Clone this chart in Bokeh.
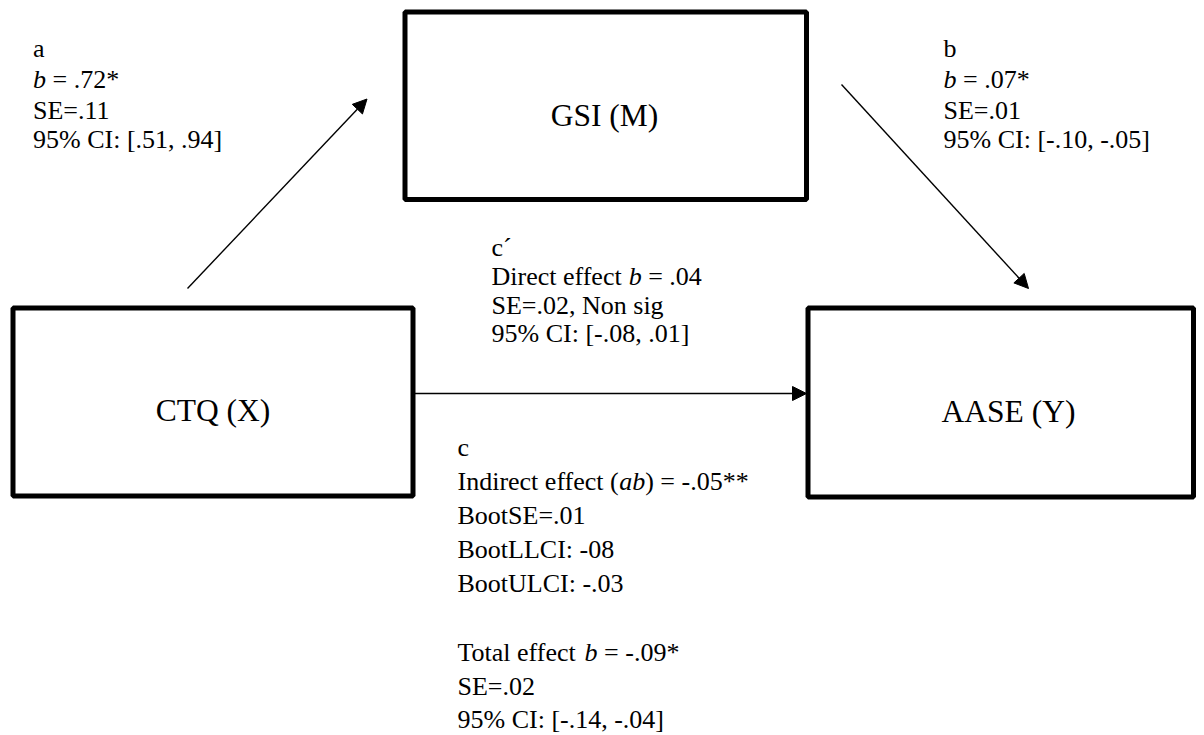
from bokeh.plotting import figure
from bokeh.models import Range1d, Arrow, NormalHead, ColumnDataSource
from bokeh.core.properties import value
from bokeh.embed import file_html
from bokeh.resources import INLINE

NB = "\u00a0"

# ---------------- data ----------------
box_names = ["GSI (M)", "CTQ (X)", "AASE (Y)"]

# each line is a list of (text, italic) segments
path_a_lines = [[("a", False)],
                [("b", True), (NB + "= .72*", False)],
                [("SE=.11", False)],
                [("95% CI: [.51, .94]", False)]]
path_b_lines = [[("b", False)],
                [("b", True), (NB + "= .07*", False)],
                [("SE=.01", False)],
                [("95% CI: [-.10, -.05]", False)]]
path_cprime_lines = [[("c\u00b4", False)],
                     [("Direct effect" + NB, False), ("b", True), (NB + "= .04", False)],
                     [("SE=.02, Non sig", False)],
                     [("95% CI: [-.08, .01]", False)]]
path_c_lines = [[("c", False)],
                [("Indirect effect (", False), ("ab", True), (") = -.05**", False)],
                [("BootSE=.01", False)],
                [("BootLLCI: -08", False)],
                [("BootULCI: -.03", False)],
                [],
                [("Total effect" + NB, False), ("b", True), (NB + "= -.09*", False)],
                [("SE=.02", False)],
                [("95% CI: [-.14, -.04]", False)]]

# ---------------- layout ----------------
FONT = "Liberation Serif"
FS = 26.0
LABEL_FS = 31.5

# Times metrics (1/1000 em) for width of prefix segments
W_REG = {' ': 250, NB: 250, 'D': 722, 'i': 278, 'r': 333, 'e': 444, 'c': 444, 't': 278,
         'f': 333, 'I': 333, 'n': 500, 'd': 500, '(': 333, 'T': 611, 'o': 500,
         'a': 444, 'l': 278}
W_IT = {'a': 500, 'b': 500}


def seg_width(s, italic):
    tbl = W_IT if italic else W_REG
    return sum(tbl.get(ch, 500) for ch in s) / 1000.0 * FS


boxes = {  # left, right, top, bottom (pixel space)
    "GSI (M)": (404.5, 806, 11.5, 199),
    "CTQ (X)": (12.5, 412.5, 307.5, 495.5),
    "AASE (Y)": (807.5, 1193, 307.5, 496.5),
}
label_pos = {"GSI (M)": (604, 115), "CTQ (X)": (212.5, 410), "AASE (Y)": (1008, 411)}

blocks = [
    (path_a_lines, 32.5, [48, 79, 109.5, 139]),
    (path_b_lines, 943, [48, 79, 109.5, 139]),
    (path_cprime_lines, 491, [247, 276, 305, 333]),
    (path_c_lines, 457, [447, 481, 515, 549, 583, 617, 652, 686, 719]),
]

arrows = [  # x_start, y_start, x_end, y_end
    (187, 288, 366.5, 98.5),
    (841, 84, 1028, 288),
    (414.5, 393, 806, 393),
]

p = figure(width=1204, height=735, x_range=Range1d(0, 1204), y_range=Range1d(735, 0),
           output_backend="svg", toolbar_location=None, min_border=0,
           x_axis_type=None, y_axis_type=None, outline_line_color=None)
p.grid.visible = False
p.background_fill_color = "white"

# boxes
src_box = ColumnDataSource(dict(
    left=[boxes[n][0] for n in box_names], right=[boxes[n][1] for n in box_names],
    top=[boxes[n][2] for n in box_names], bottom=[boxes[n][3] for n in box_names]))
p.quad(left="left", right="right", top="top", bottom="bottom", source=src_box,
       fill_color="white", line_color="black", line_width=5)

# box labels
p.text(x=[label_pos[n][0] for n in box_names], y=[label_pos[n][1] for n in box_names],
       text=box_names, text_font=value(FONT), text_font_size=f"{LABEL_FS}px",
       text_align="center", text_baseline="alphabetic", text_color="black")

# annotation texts
reg = dict(x=[], y=[], text=[])
ita = dict(x=[], y=[], text=[])
for lines, x0, ys in blocks:
    for line, y in zip(lines, ys):
        x = x0
        for s, italic in line:
            d = ita if italic else reg
            d["x"].append(x)
            d["y"].append(y)
            d["text"].append(s)
            x += seg_width(s, italic)

p.text(x="x", y="y", text="text", source=ColumnDataSource(reg), text_font=value(FONT),
       text_font_size=f"{FS}px", text_align="left", text_baseline="alphabetic",
       text_color="black")
p.text(x="x", y="y", text="text", source=ColumnDataSource(ita), text_font=value(FONT),
       text_font_size=f"{FS}px", text_font_style="italic", text_align="left",
       text_baseline="alphabetic", text_color="black")

for xs, ys, xe, ye in arrows:
    p.add_layout(Arrow(end=NormalHead(size=14, fill_color="black", line_color="black",
                                      line_width=1),
                       x_start=xs, y_start=ys, x_end=xe, y_end=ye,
                       line_color="black", line_width=1.4))

open("out.html", "w").write(file_html(p, INLINE))
